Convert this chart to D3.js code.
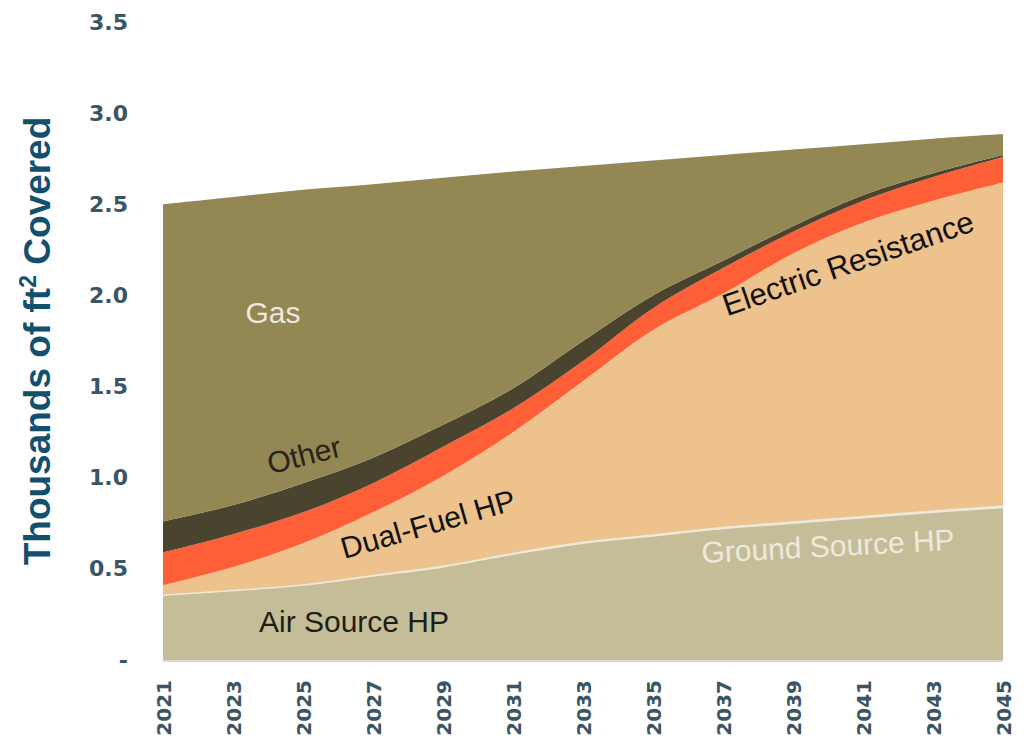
<!DOCTYPE html>
<html>
<head>
<meta charset="utf-8">
<script src="https://cdn.jsdelivr.net/npm/d3@7"></script>
<style>
  html, body { margin: 0; padding: 0; background: #ffffff; }
  svg { display: block; }
</style>
</head>
<body>
<svg id="chart" width="1024" height="738"></svg>
<script>
// ---- data ----
const years = [2021, 2023, 2025, 2027, 2029, 2031, 2033, 2035, 2037, 2039, 2041, 2043, 2045];
const airSourceHP      = [0.355, 0.38, 0.41, 0.46, 0.51, 0.58, 0.64, 0.68, 0.72, 0.75, 0.78, 0.81, 0.835];
const groundSourceHP   = [0.004, 0.005, 0.006, 0.007, 0.008, 0.009, 0.010, 0.010, 0.011, 0.011, 0.012, 0.012, 0.012];
const dualFuelHP       = [0.051, 0.125, 0.224, 0.343, 0.492, 0.661, 0.88, 1.12, 1.279, 1.469, 1.608, 1.698, 1.773];
const electricResist   = [0.18, 0.18, 0.17, 0.16, 0.16, 0.13, 0.11, 0.12, 0.14, 0.12, 0.12, 0.13, 0.14];
const other            = [0.17, 0.16, 0.16, 0.14, 0.12, 0.11, 0.11, 0.07, 0.04, 0.03, 0.03, 0.02, 0.01];
const gas              = [1.74, 1.69, 1.61, 1.50, 1.355, 1.19, 0.96, 0.74, 0.58, 0.42, 0.28, 0.19, 0.115];
const seriesNames = ["Air Source HP", "Ground Source HP", "Dual-Fuel HP", "Electric Resistance", "Other", "Gas"];
const yTicks = [0, 0.5, 1.0, 1.5, 2.0, 2.5, 3.0, 3.5];
const xTickYears = years;

// ---- styles ----
const colors = {
  "Air Source HP": "#c4bd98",
  "Ground Source HP": "#ece8da",
  "Dual-Fuel HP": "#edc28c",
  "Electric Resistance": "#ff5f37",
  "Other": "#4a432d",
  "Gas": "#938754"
};

const table = years.map((y, i) => ({
  year: y,
  "Air Source HP": airSourceHP[i],
  "Ground Source HP": groundSourceHP[i],
  "Dual-Fuel HP": dualFuelHP[i],
  "Electric Resistance": electricResist[i],
  "Other": other[i],
  "Gas": gas[i]
}));

const svg = d3.select("#chart");
const x = d3.scaleLinear().domain([2021, 2045]).range([163, 1003]);
const y = d3.scaleLinear().domain([0, 3.5]).range([660, 22]);

const stack = d3.stack().keys(seriesNames);
const layers = stack(table);

const area = d3.area()
  .curve(d3.curveCatmullRom.alpha(0.5))
  .x(d => x(d.data.year))
  .y0(d => y(d[0]))
  .y1(d => y(d[1]));

svg.append("g").selectAll("path")
  .data(layers)
  .join("path")
  .attr("d", area)
  .attr("fill", d => colors[d.key])
  .attr("stroke", d => d.key === "Ground Source HP" ? colors[d.key] : "none")
  .attr("stroke-width", 1.2);

// bottom axis line
svg.append("line")
  .attr("x1", x(2021)).attr("x2", x(2045))
  .attr("y1", y(0) + 1).attr("y2", y(0) + 1)
  .attr("stroke", "#d9d9d9").attr("stroke-width", 2);

// y axis
const yAxis = d3.axisLeft(y)
  .tickValues(yTicks)
  .tickSize(0)
  .tickPadding(0)
  .tickFormat(d => d === 0 ? "-" : d3.format(".1f")(d));
const yg = svg.append("g").attr("transform", "translate(128,0)").call(yAxis);
yg.select(".domain").remove();
yg.selectAll("text")
  .attr("font-family", "'DejaVu Sans', Verdana, sans-serif")
  .attr("font-weight", "bold")
  .attr("font-size", 22)
  .attr("fill", "#3a5564");

// x axis
const xAxis = d3.axisBottom(x)
  .tickValues(xTickYears)
  .tickSize(0)
  .tickFormat(d3.format("d"));
const xg = svg.append("g").attr("transform", "translate(0,680)").call(xAxis);
xg.select(".domain").remove();
xg.selectAll("text")
  .attr("font-family", "'DejaVu Sans', Verdana, sans-serif")
  .attr("font-weight", "bold")
  .attr("font-size", 20)
  .attr("fill", "#3a5564")
  .attr("text-anchor", "end")
  .attr("dy", "0.35em")
  .attr("x", 0)
  .attr("y", 0)
  .attr("transform", "rotate(-90)");

// y title
const title = svg.append("text")
  .attr("transform", "translate(50,341) rotate(-90)")
  .attr("text-anchor", "middle")
  .attr("font-family", "'Liberation Sans', Arial, sans-serif")
  .attr("font-weight", "bold")
  .attr("font-size", 37)
  .attr("fill", "#12506e");
title.append("tspan").text("Thousands of ft");
title.append("tspan").attr("dy", -14).attr("font-size", 23).text("2");
title.append("tspan").attr("dy", 14).text(" Covered");

// in-chart labels
const labels = [
  { text: "Gas", cx: 273, cy: 312, rot: 0, color: "#ede9dd" },
  { text: "Other", cx: 304, cy: 455, rot: -14, color: "#262419" },
  { text: "Dual-Fuel HP", cx: 428, cy: 524, rot: -16, color: "#111111" },
  { text: "Electric Resistance", cx: 848, cy: 263, rot: -19, color: "#111111" },
  { text: "Ground Source HP", cx: 828, cy: 546, rot: -3, color: "#ede9dd" },
  { text: "Air Source HP", cx: 354, cy: 621, rot: 0, color: "#1e1d16" }
];
svg.append("g").selectAll("text")
  .data(labels)
  .join("text")
  .attr("transform", d => `translate(${d.cx},${d.cy}) rotate(${d.rot})`)
  .attr("text-anchor", "middle")
  .attr("dy", "0.35em")
  .attr("font-family", "'Liberation Sans', Arial, sans-serif")
  .attr("font-size", d => d.text === "Electric Resistance" ? 31 : 30)
  .attr("fill", d => d.color)
  .text(d => d.text);
</script>
</body>
</html>
